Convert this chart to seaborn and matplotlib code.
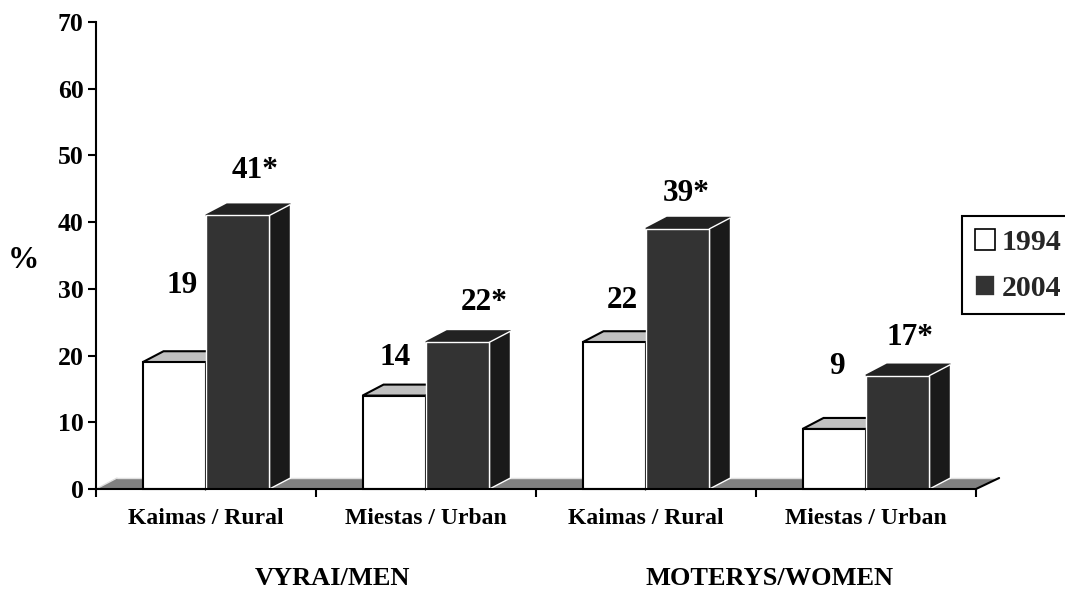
# plot.py

# ------------------------------
# 1. Import Required Libraries
# ------------------------------
import matplotlib
matplotlib.use("Agg")
import matplotlib.pyplot as plt
import pandas as pd
import seaborn as sns

# ------------------------------
# 2. Data
# ------------------------------
groups = ["Kaimas / Rural", "Miestas / Urban", "Kaimas / Rural", "Miestas / Urban"]
values_1994 = [19, 14, 22, 9]
values_2004 = [41, 22, 39, 17]
labels_1994 = ["19", "14", "22", "9"]
labels_2004 = ["41*", "22*", "39*", "17*"]
y_ticks = [0, 10, 20, 30, 40, 50, 60, 70]

df = pd.DataFrame({
    "slot": list(range(4)) * 2,
    "value": values_1994 + values_2004,
    "year": ["1994"] * 4 + ["2004"] * 4,
})

# label offsets from the bar top centre, in pixels (dx, dy)
offsets_1994 = [(8, 77), (1, 38), (8, 42), (3, 62)]
offsets_2004 = [(17, 45), (26, 40), (8, 35), (12, 38)]

# ------------------------------
# 3. Figure
# ------------------------------
sns.set_theme(style="white")
plt.rcParams["font.family"] = ["Liberation Serif", "DejaVu Serif"]
plt.rcParams["font.weight"] = "bold"

W, H = 1065, 591
fig = plt.figure(figsize=(W / 100, H / 100), dpi=100)
ax = fig.add_axes([96 / W, (H - 489) / H, 880 / W, 467 / H])

sns.barplot(data=df, x="slot", y="value", hue="year", order=[0, 1, 2, 3],
            hue_order=["1994", "2004"], palette={"1994": "white", "2004": "#333333"},
            width=0.577, gap=0, saturation=1, ax=ax, zorder=3)

ax.set_xlim(-0.5, 3.5)
ax.set_ylim(0, 70)

# depth of the fake 3D effect in data units
dx = 21 / 220
dy = 11 / (467 / 70)

# floor
ax.fill([-0.5, -0.5 + dx, 3.5 + 1.1 * dx, 3.5], [0, dy, dy, 0], color="#808080", lw=0,
        zorder=1, clip_on=False)
ax.plot([-0.5 + dx, 3.5 + 1.1 * dx], [dy, dy], color="#e0e0e0", lw=1, zorder=1.5, clip_on=False)
ax.plot([-0.5, -0.5 + dx], [0, dy], color="#e0e0e0", lw=1, zorder=1.5, clip_on=False)
ax.plot([3.5, 3.5 + 1.1 * dx], [0, dy], color="black", lw=1.5, zorder=1.5, clip_on=False)

# bar sides and tops
styles = [("#c0c0c0", "white", "black", 1.5, 2), ("#222222", "#1a1a1a", "white", 1.0, 3.5)]
for container, (top_c, side_c, edge_c, lw, z) in zip(ax.containers, styles):
    for bar in container:
        x0 = bar.get_x()
        x1 = x0 + bar.get_width()
        h = bar.get_height()
        ax.fill([x0, x0 + dx, x1 + dx, x1], [h, h + dy, h + dy, h], facecolor=top_c,
                edgecolor="black" if z < 3 else "#222222", lw=1.5, zorder=z, clip_on=False)
        ax.fill([x1, x1 + dx, x1 + dx, x1], [0, dy, h + dy, h], facecolor=side_c,
                edgecolor=edge_c if z > 3 else "black", lw=lw, zorder=z, clip_on=False)
        bar.set_edgecolor(edge_c)
        bar.set_linewidth(lw)
        bar.set_zorder(z + 0.5 if z > 3 else 3)
        bar.set_clip_on(False)

# value labels
for container, texts, offs in zip(ax.containers, [labels_1994, labels_2004],
                                  [offsets_1994, offsets_2004]):
    for bar, text, (ox, oy) in zip(container, texts, offs):
        ax.annotate(text, (bar.get_x() + bar.get_width() / 2, bar.get_height()),
                    xytext=(ox * 0.72, oy * 0.72), textcoords="offset points",
                    ha="center", va="center", fontsize=22.5, fontweight="bold",
                    color="black", zorder=6)

# ------------------------------
# 4. Axes
# ------------------------------
sns.despine(ax=ax)
for side in ["left", "bottom"]:
    ax.spines[side].set_linewidth(1.5)
    ax.spines[side].set_color("black")
    ax.spines[side].set_zorder(5)

ax.set_yticks(y_ticks)
ax.tick_params(axis="y", which="major", left=True, length=5.5, width=1.5, color="black",
               labelsize=18.5, pad=3.5, labelcolor="black")
ax.set_xticks([-0.5, 0.5, 1.5, 2.5, 3.5])
ax.set_xticklabels([])
ax.set_xticks([0, 1, 2, 3], minor=True)
ax.set_xticklabels(groups, minor=True, fontsize=17, fontweight="bold", color="black")
ax.tick_params(axis="x", which="major", bottom=True, length=5.5, width=1.5, color="black")
ax.tick_params(axis="x", which="minor", bottom=False, length=0, pad=14)
ax.set_xlabel("")
ax.set_ylabel("")

fig.text(23 / W, 1 - 260 / H, "%", ha="center", va="center", fontsize=22.5, fontweight="bold",
         color="black")
# baseline kept just clear of the bottom edge
fig.text(332.5 / W, 1 - 585 / H, "VYRAI/MEN", ha="center", va="baseline", fontsize=19,
         fontweight="bold", color="black")
fig.text(770 / W, 1 - 585 / H, "MOTERYS/WOMEN", ha="center", va="baseline", fontsize=19,
         fontweight="bold", color="black")

# ------------------------------
# 5. Legend
# ------------------------------
sns.move_legend(ax, "upper left", bbox_to_anchor=(962 / W, 1 - 216 / H),
                bbox_transform=fig.transFigure, title=None, frameon=True, fancybox=False,
                framealpha=1, edgecolor="black", fontsize=21.5, handlelength=0.7,
                handleheight=0.7, handletextpad=0.2, labelspacing=0.65, borderpad=0.42,
                borderaxespad=0)
leg = ax.get_legend()
leg.get_frame().set_linewidth(1.5)
leg.set_zorder(7)
for handle, col in zip(leg.legend_handles, ["black", "white"]):
    handle.set_edgecolor(col)
    handle.set_linewidth(1.2)

fig.savefig("out.png", dpi=100, facecolor="white")
